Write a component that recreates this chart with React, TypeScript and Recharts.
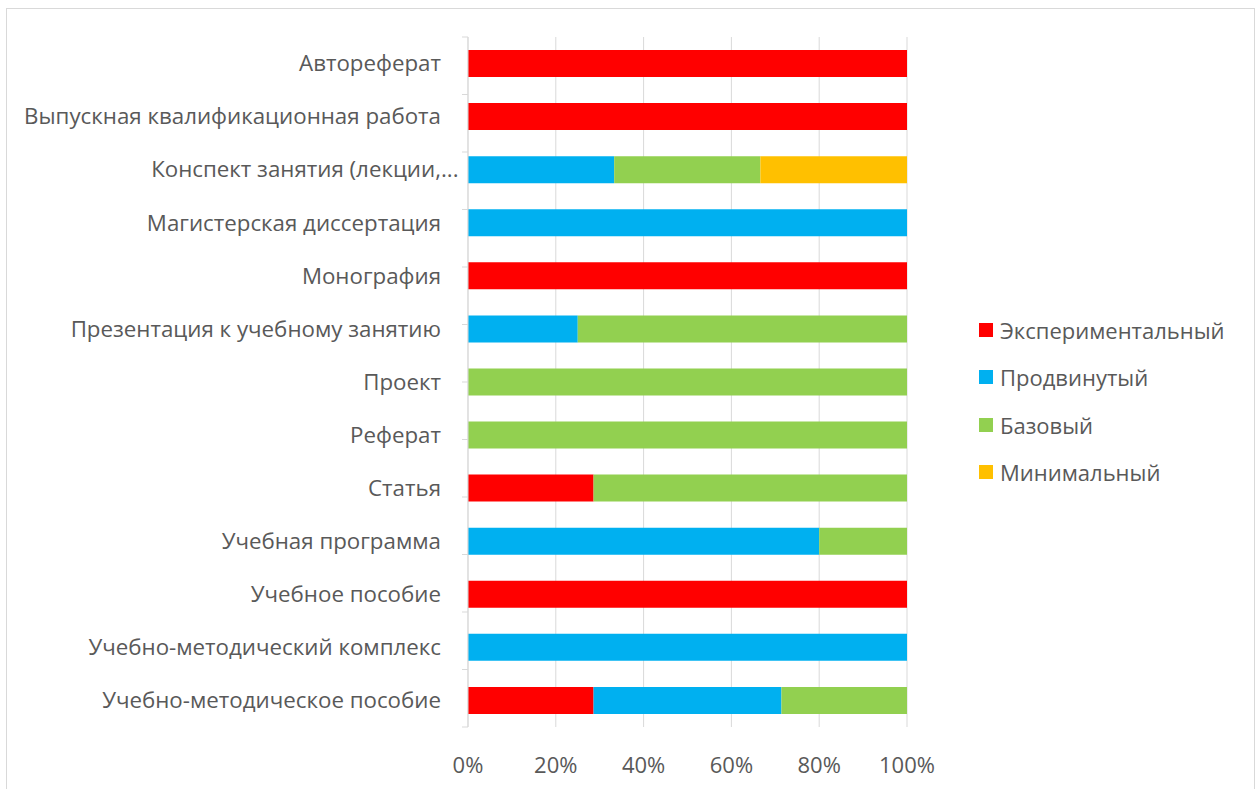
import React from 'react'
import { BarChart, Bar, XAxis, YAxis, CartesianGrid, Legend } from 'recharts'

// categories, top to bottom
const categories = [
  'Автореферат',
  'Выпускная квалификационная работа',
  'Конспект занятия (лекции,...',
  'Магистерская диссертация',
  'Монография',
  'Презентация к учебному занятию',
  'Проект',
  'Реферат',
  'Статья',
  'Учебная программа',
  'Учебное пособие',
  'Учебно-методический комплекс',
  'Учебно-методическое пособие',
]

// shares in percent, per category
const experimental = [100, 100, 0, 0, 100, 0, 0, 0, 28.6, 0, 100, 0, 28.6]
const advanced = [0, 0, 33.3, 100, 0, 25, 0, 0, 0, 80, 0, 100, 42.8]
const basic = [0, 0, 33.3, 0, 0, 75, 100, 100, 71.4, 20, 0, 0, 28.6]
const minimal = [0, 0, 33.4, 0, 0, 0, 0, 0, 0, 0, 0, 0, 0]

const xTicks = [0, 20, 40, 60, 80, 100]

const series = [
  { key: 'exp', name: 'Экспериментальный', color: '#ff0000', values: experimental },
  { key: 'adv', name: 'Продвинутый', color: '#00b0f0', values: advanced },
  { key: 'base', name: 'Базовый', color: '#92d050', values: basic },
  { key: 'min', name: 'Минимальный', color: '#ffc000', values: minimal },
]

const data = categories.map((name, i) => {
  const row: Record<string, string | number> = { name }
  series.forEach((s) => { row[s.key] = s.values[i] })
  return row
})

const FONT = '"Open Sans", "Noto Sans", sans-serif'
const TEXT = '#595959'
const GRID = '#d9d9d9'

// Excel right-aligns the label and lets the ellipsis hang past the edge
const CategoryTick = (props: any) => {
  const { x, y, payload } = props
  const label: string = payload.value
  const cut = label.endsWith('...')
  const main = cut ? label.slice(0, -3) : label
  return (
    <g>
      <text x={x} y={y} dy="0.35em" textAnchor="end" fill={TEXT} fontSize={22.3} fontFamily={FONT}>
        {main}
      </text>
      {cut && (
        <text x={x} y={y} dy="0.35em" textAnchor="start" fill={TEXT} fontSize={22.3} fontFamily={FONT}>
          ...
        </text>
      )}
    </g>
  )
}

const NoLabel = () => <g />

const LegendBox = () => (
  <div style={{ fontFamily: FONT }}>
    {series.map((s) => (
      <div key={s.key} style={{ display: 'flex', alignItems: 'center', height: 47.5 }}>
        <span style={{ width: 14, height: 14, background: s.color, marginRight: 7 }} />
        <span style={{ fontSize: 22, color: TEXT }}>{s.name}</span>
      </div>
    ))}
  </div>
)

export default function App() {
  return (
    <div style={{ position: 'absolute', left: 0, top: 0, width: 1259, height: 789, overflow: 'hidden', background: '#fff' }}>
      <div style={{ position: 'absolute', left: 6, top: 8, width: 1247, height: 800, border: `1px solid ${GRID}` }} />
      <div style={{ position: 'absolute', left: 0, top: 0 }}>
        <BarChart
          width={1259}
          height={789}
          data={data}
          layout="vertical"
          margin={{ top: 37, right: 352, bottom: 0, left: 0 }}
          barSize={27}
        >
          <CartesianGrid horizontal={false} stroke={GRID} yAxisId="cat" />
          <XAxis
            type="number"
            domain={[0, 100]}
            ticks={xTicks}
            tickFormatter={(v) => `${v}%`}
            axisLine={false}
            tickLine={false}
            height={62}
            tickMargin={24}
            tick={{ fill: TEXT, fontSize: 22, fontFamily: FONT }}
            interval={0}
          />
          {/* plain axis that only carries the between-category tick marks */}
          <YAxis
            yAxisId="bounds"
            type="number"
            domain={[0, categories.length]}
            tickCount={categories.length + 1}
            allowDecimals={false}
            width={1}
            axisLine={{ stroke: GRID }}
            tickLine={{ stroke: GRID }}
            tickSize={6}
            tick={<NoLabel />}
          />
          <YAxis
            yAxisId="cat"
            type="category"
            dataKey="name"
            width={467}
            axisLine={false}
            tickLine={false}
            tickMargin={20}
            tick={<CategoryTick />}
            interval={0}
          />
          <Legend
            layout="vertical"
            align="center"
            verticalAlign="middle"
            content={<LegendBox />}
            wrapperStyle={{ left: 979, top: 306, width: 270 }}
          />
          {series.map((s) => (
            <Bar
              key={s.key}
              yAxisId="cat"
              dataKey={s.key}
              name={s.name}
              stackId="a"
              fill={s.color}
              isAnimationActive={false}
            />
          ))}
        </BarChart>
      </div>
    </div>
  )
}
